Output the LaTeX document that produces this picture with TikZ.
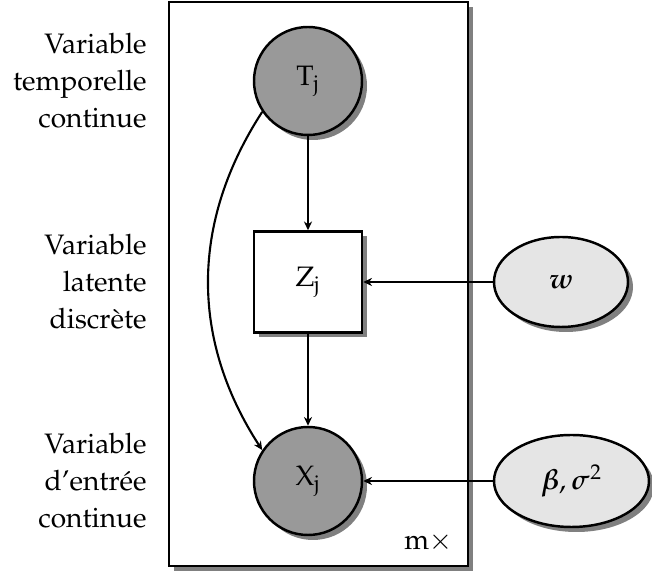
\documentclass[tikz,border=0pt]{standalone}
\usepackage{amssymb,amsmath}
\usepackage[T1]{fontenc}
\usepackage{mathpazo}
\usepackage{tikz}
\usetikzlibrary{arrows.meta,shapes,shadows}
\tikzstyle{shade}=[drop shadow={shadow xshift=0.1cm,shadow yshift=-0.1cm,fill=black!50,opacity=1}]
\tikzstyle{obs}=[circle,draw,line width=1.4pt,fill=black!40,minimum size=2.16cm,inner sep=0pt,shade]
\tikzstyle{latent}=[rectangle,draw,line width=1.4pt,fill=white,minimum width=2.16cm,minimum height=2.02cm,inner sep=0pt,shade]
\tikzstyle{param}=[ellipse,draw,line width=1.4pt,fill=black!10,inner sep=0pt,shade]
\tikzstyle{plate}=[rectangle,draw,line width=1.4pt,fill=white,shade]
\tikzstyle{desc}=[anchor=east,align=right,inner sep=0pt]
\tikzstyle{edge} = [draw,line width=1.2pt,-{Stealth[length=5pt,width=4.6pt]}]

\begin{document}
\begin{tikzpicture}[font=\fontsize{16}{21}\selectfont]
        \useasboundingbox (0,0) rectangle (13.04,11.52);
        \node[plate,minimum width=5.98cm,minimum height=11.28cm] (plate) at (6.37,5.84) {};
        \node[anchor=base east,inner sep=0pt] (m) at (9.06,0.52) {$\mathrm{m}\times$};
        \node[obs] (T) at (6.16,9.9) {$\mathrm{T}_{\mathrm{j}}$};
        \node[latent] (Z) at (6.16,5.88) {$\mathrm{Z}_{\mathrm{j}}$};
        \node[obs] (X) at (6.16,1.9) {$\mathrm{X}_{\mathrm{j}}$};
        \node[param,minimum width=2.68cm,minimum height=1.8cm] (w) at (11.22,5.88) {$\boldsymbol{w}$};
        \node[param,minimum width=3.1cm,minimum height=1.84cm] (bs) at (11.43,1.9) {$\boldsymbol{\beta},\boldsymbol{\sigma}^2$};
        % descriptions on the left
        \node[desc] (dT) at (2.94,9.9) {Variable\\temporelle\\continue};
        \node[desc] (dZ) at (2.94,5.88) {Variable\\latente\\discr\`ete};
        \node[desc] (dX) at (2.94,1.9) {Variable\\d'entr\'ee\\continue};
        \draw[edge] (T) to (Z);
        \draw[edge] (Z) to (X);
        \draw[edge] (w) to (Z);
        \draw[edge] (bs) to (X);
        \draw[edge] (T.214) to[out=237,in=123] (X.146);
      \end{tikzpicture}
\end{document}
